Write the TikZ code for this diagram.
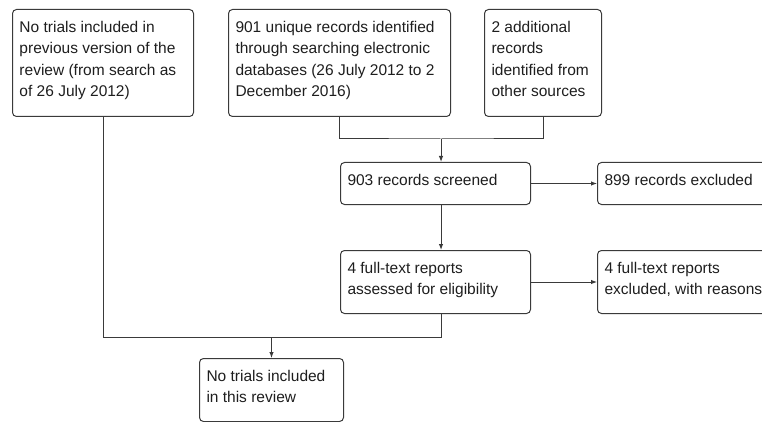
\documentclass[tikz,border=0pt]{standalone}
\usepackage{fontspec}
\setmainfont{Liberation Sans}
\usetikzlibrary{arrows.meta}
\definecolor{ln}{HTML}{3A3A3A}
\definecolor{tx}{HTML}{1E1E1E}
\newcommand{\bx}[3]{\parbox[t][\dimexpr #2pt-15pt\relax][t]{\dimexpr #1pt-14pt\relax}{\raggedright\strut #3}}
\tikzset{
  flowbox/.style={draw=ln, line width=1pt, rounded corners=4pt, anchor=north west,
    inner xsep=7pt, inner ysep=7.5pt, text=tx, font=\fontsize{15.5}{21.5}\selectfont},
  conn/.style={draw=ln, line width=1pt},
  arr/.style={conn, -{Latex[length=6pt,width=4.5pt]}}
}
\begin{document}
\begin{tikzpicture}[x=1pt,y=-1pt]
\useasboundingbox (0,0) rectangle (762,422);
\clip (0,0) rectangle (762,422);
\node[flowbox] (A) at (12,9) {\bx{181}{107}{No trials included in\\previous version of the\\review (from search as\\of 26 July 2012)}};
\node[flowbox] (B) at (228,9) {\bx{222}{107}{901 unique records identified\\through searching electronic\\databases (26 July 2012 to 2\\December 2016)}};
\node[flowbox] (C) at (484,9) {\bx{117}{107}{2 additional\\records\\identified from\\other sources}};
\node[flowbox] (D) at (340,162) {\bx{190}{42}{903 records screened}};
\node[flowbox] (E) at (597,162) {\bx{180}{42}{899 records excluded}};
\node[flowbox] (F) at (340,250) {\bx{190}{63}{4 full-text reports\\assessed for eligibility}};
\node[flowbox] (G) at (597,250) {\bx{180}{63}{4 full-text reports\\excluded, with reasons}};
\node[flowbox] (H) at (199,358) {\bx{144}{63}{No trials included\\in this review}};
\coordinate (j1) at (441,139);
\coordinate (j2) at (441,337);
\draw[conn] (B.south) |- (j1) -| (C.south);
\draw[arr] (j1) -- (j1 |- D.north);
\draw[arr] (D.east) -- (E.west);
\draw[arr] (j1 |- D.south) -- (j1 |- F.north);
\draw[arr] (F.east) -- (G.west);
\draw[conn] (A.south) |- (j2) -- (j1 |- F.south);
\draw[arr] (H.north |- j2) -- (H.north);
\end{tikzpicture}
\end{document}
